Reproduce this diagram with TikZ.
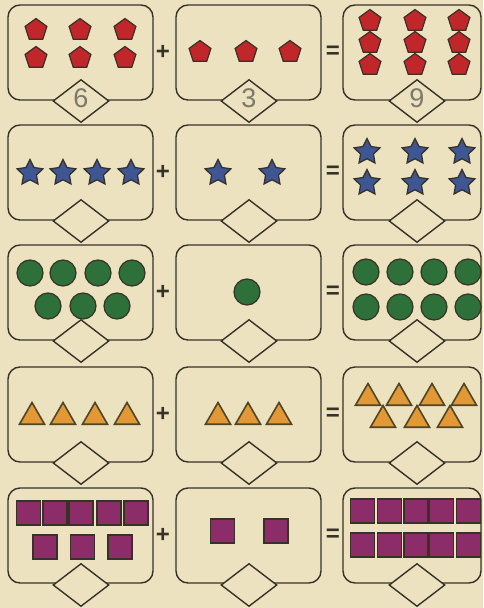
\documentclass[tikz,border=0pt]{standalone}
\usepackage{fontspec}
\setsansfont{Liberation Sans}
\usetikzlibrary{shapes.geometric}
\definecolor{paper}{RGB}{236,226,192}
\definecolor{ink}{RGB}{55,50,40}
\definecolor{digit}{RGB}{125,120,105}
\definecolor{pentred}{RGB}{192,38,42}
\definecolor{starblue}{RGB}{62,86,148}
\definecolor{dotgreen}{RGB}{46,112,58}
\definecolor{triorange}{RGB}{226,152,52}
\definecolor{triline}{RGB}{78,70,38}
\definecolor{sqpurple}{RGB}{140,44,104}

\begin{document}
\begin{tikzpicture}[x=1pt,y=-1pt,line width=1.4pt,
  card/.style={draw=ink,fill=paper,rounded corners=12pt,inner sep=0pt,minimum height=95pt},
  slot/.style={diamond,draw=ink,fill=paper,inner sep=0pt,minimum width=56pt,minimum height=43pt},
  answer/.style={inner sep=0pt,text=digit,font=\sffamily\fontsize{27}{27}\selectfont},
  sign/.style={inner sep=0pt,text=ink,font=\sffamily\bfseries\fontsize{24}{24}\selectfont},
  pent/.style={regular polygon,regular polygon sides=5,minimum size=23pt,inner sep=0pt,fill=pentred,draw=ink,line width=1.2pt},
  starshape/.style={star,star points=5,star point ratio=2.0,minimum size=27pt,inner sep=0pt,fill=starblue,draw=ink,line width=1.3pt},
  dot/.style={circle,minimum size=26pt,inner sep=0pt,fill=dotgreen,draw=ink,line width=1.2pt},
  tri/.style={regular polygon,regular polygon sides=3,minimum size=29pt,inner sep=0pt,fill=triorange,draw=triline,line width=1.6pt},
  sq/.style={rectangle,minimum width=24pt,minimum height=24pt,inner sep=0pt,fill=sqpurple,draw=ink,line width=1.2pt}]
\path[use as bounding box,fill=paper] (0,0) rectangle (483,608);

% cards, diamonds and signs, row by row
\foreach \r/\yc/\yd in {1/52.5/101,2/172.5/221,3/292.5/341,4/414.5/463,5/535.5/585}{
  \node[card,minimum width=145pt] (a\r) at (80.5,\yc) {};
  \node[card,minimum width=145pt] (b\r) at (248.5,\yc) {};
  \node[card,minimum width=138pt] (c\r) at (412,\yc) {};
  \node[slot] (da\r) at (81,\yd) {};
  \node[slot] (db\r) at (249,\yd) {};
  \node[slot] (dc\r) at (417,\yd) {};
  \node[sign] (plus\r) at (163,\yc) {+};
  \node[sign] (eq\r) at (333,\yc) {=};
}
\node[answer] (na1) at (81,98) {6};
\node[answer] (nb1) at (249,98) {3};
\node[answer] (nc1) at (417,98) {9};

% row 1: pentagons
\foreach \x/\y [count=\i] in {36/30,80/30,125/30,36/58,80/58,125/58}
  \node[pent] (pa\i) at (\x,\y) {};
\foreach \x/\y [count=\i] in {200/52,246/52,290/52}
  \node[pent] (pb\i) at (\x,\y) {};
\foreach \x/\y [count=\i] in {370/21,415/21,459/21,370/43,415/43,459/43,370/65,415/65,459/65}
  \node[pent] (pc\i) at (\x,\y) {};

% row 2: stars
\foreach \x/\y [count=\i] in {30/173,63/173,97/173,131/173}
  \node[starshape] (sa\i) at (\x,\y) {};
\foreach \x/\y [count=\i] in {218/173,272/173}
  \node[starshape] (sb\i) at (\x,\y) {};
\foreach \x/\y [count=\i] in {367/152,415/152,462/152,367/183,415/183,462/183}
  \node[starshape] (sc\i) at (\x,\y) {};

% row 3: circles
\foreach \x/\y [count=\i] in {30/273,63/273,98/273,132/273,48/306,83/306,117/306}
  \node[dot] (ca\i) at (\x,\y) {};
\node[dot] (cb1) at (247,292) {};
\foreach \x/\y [count=\i] in {366/272,400/272,434/272,468/272,366/307,400/307,434/307,468/307}
  \node[dot] (cc\i) at (\x,\y) {};

% row 4: triangles
\foreach \x/\y [count=\i] in {32/417,63/417,95/417,127/417}
  \node[tri] (ta\i) at (\x,\y) {};
\foreach \x/\y [count=\i] in {218/417,248/417,279/417}
  \node[tri] (tb\i) at (\x,\y) {};
\foreach \x/\y [count=\i] in {368/398,399/398,432/398,464/398,383/420,417/420,450/420}
  \node[tri] (tc\i) at (\x,\y) {};

% row 5: squares
\foreach \x/\y [count=\i] in {28.5/513,55/513,81/513,109/513,136/513,45/547,82.5/547,120/547}
  \node[sq] (qa\i) at (\x,\y) {};
\foreach \x/\y [count=\i] in {222.5/531,276/531}
  \node[sq] (qb\i) at (\x,\y) {};
\foreach \x/\y [count=\i] in {362.5/511,389.5/511,416/511,441.5/511,468.5/511,362.5/545,389.5/545,416/545,441.5/545,468.5/545}
  \node[sq] (qc\i) at (\x,\y) {};
\end{tikzpicture}
\end{document}
